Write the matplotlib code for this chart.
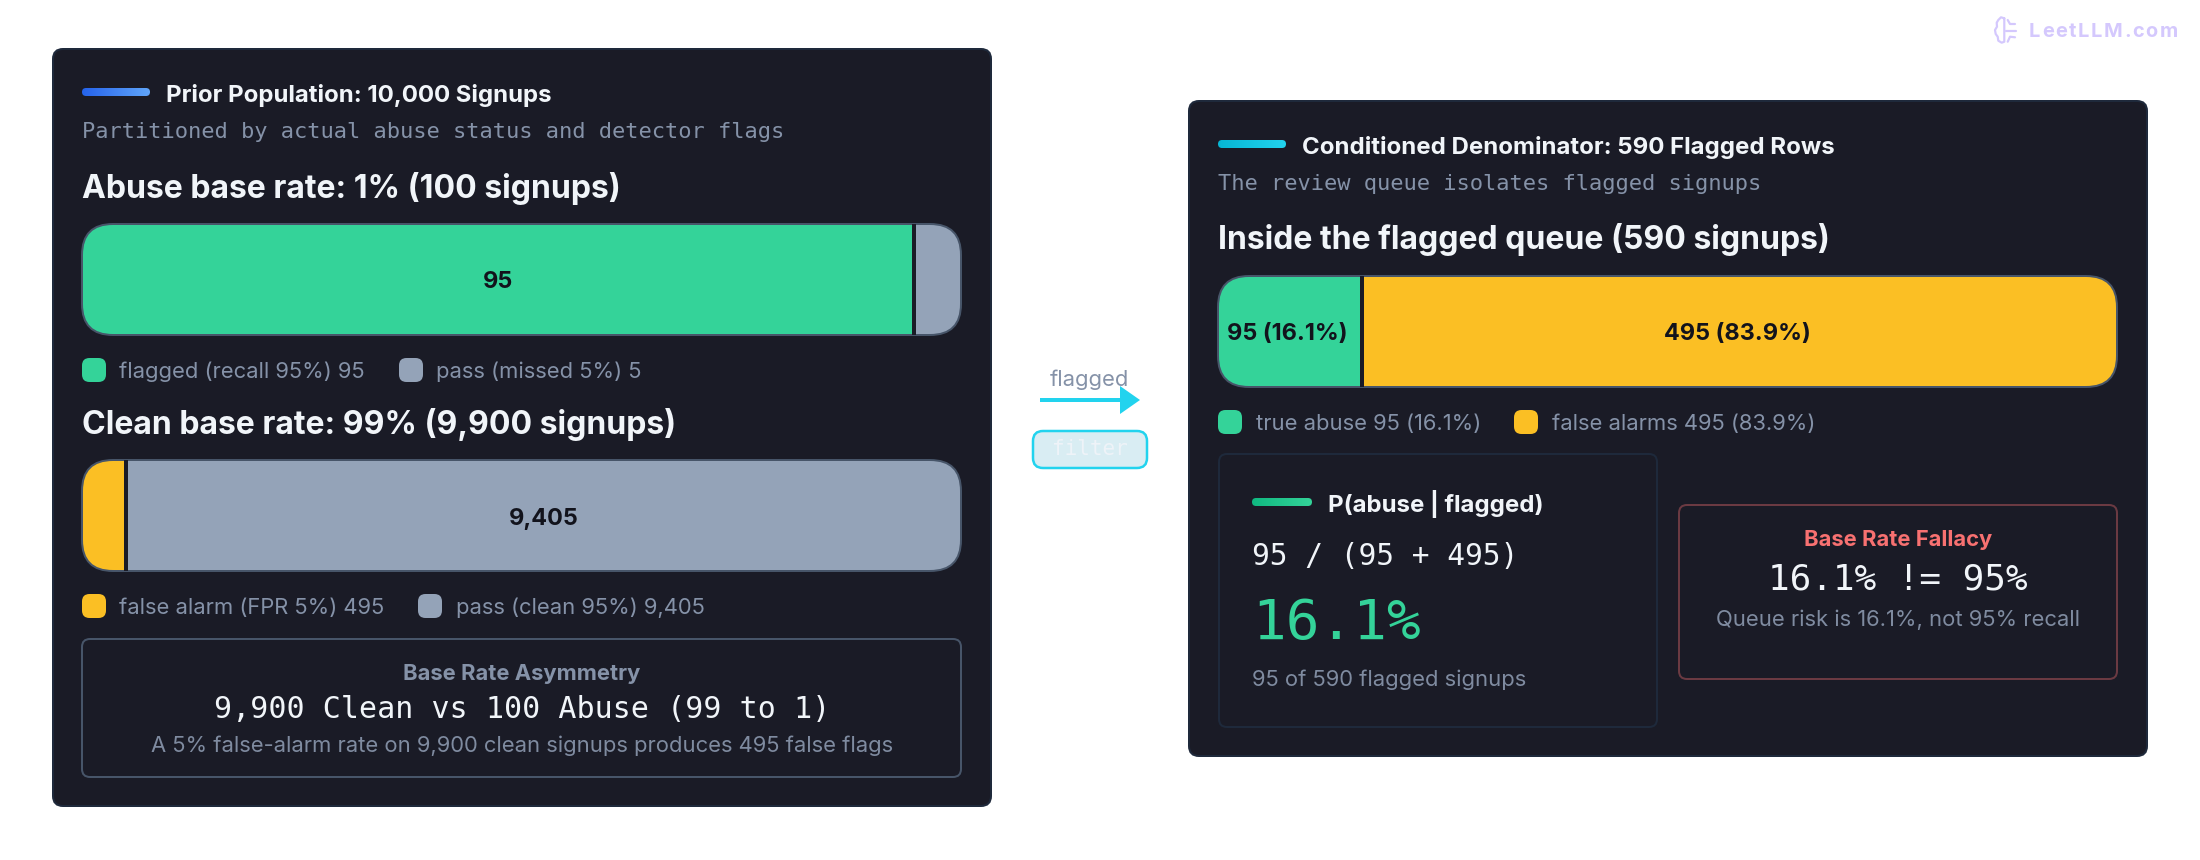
import numpy as np
from matplotlib import pyplot as plt
from matplotlib.colors import to_rgb
from matplotlib.patches import FancyBboxPatch, Polygon

# values
abuse_counts = [95, 5]
abuse_labels = ['95', '']
clean_counts = [495, 9405]
clean_labels = ['', '9,405']
queue_counts = [95, 495]
queue_labels = ['95 (16.1%)', '495 (83.9%)']

W, H = 2200, 860
CARD = '#1a1b26'
GREEN = '#34d399'
GRAY = '#94a3b8'
YELLOW = '#fbbf24'
EDGE = '#475569'
WHITE = '#f1f5f9'
MUTED = '#8592a8'
DIM = '#7f8ba0'
MARK = '#d4c8fd'
SANS = 'Inter'
MONO = 'DejaVu Sans Mono'

fig = plt.figure(figsize=(22, 8.6), dpi=100, facecolor='white')
ax = fig.add_axes([0, 0, 1, 1])
ax.set_xlim(0, W)
ax.set_ylim(H, 0)
ax.axis('off')


def px(v):
    # pixel size to points at 100 dpi
    return v * 0.72


def round_box(x, y, w, h, r, **kw):
    return FancyBboxPatch((x, y), w, h, boxstyle=f'round,pad=0,rounding_size={r}',
                          transform=ax.transData, **kw)


def box(x, y, w, h, r, fc, ec, lw=2, z=1):
    ax.add_patch(round_box(x, y, w, h, r, fc=fc, ec=ec, lw=px(lw), zorder=z))


def txt(x, y, s, size, color, weight='normal', family=SANS, ha='left'):
    return ax.text(x, y, s, fontsize=px(size), color=color, fontweight=weight, family=family,
                   ha=ha, va='baseline', zorder=5)


def spaced_txt(x, y, s, size, color, weight, spacing):
    # matplotlib has no letter-spacing, so place the characters one at a time
    rend = fig.canvas.get_renderer()
    for i, ch in enumerate(s):
        probe = txt(0, 0, s[:i] + '|', size, color, weight)
        bar = txt(0, 0, '|', size, color, weight)
        adv = probe.get_window_extent(rend).width - bar.get_window_extent(rend).width
        probe.remove()
        bar.remove()
        txt(x + adv + spacing * i, y, ch, size, color, weight)


def accent(x, y, w, h, c0, c1):
    c = np.array([to_rgb(c0), to_rgb(c1)])
    ramp = np.linspace(0, 1, 64)[:, None]
    img = (c[0] * (1 - ramp) + c[1] * ramp)[None, :, :]
    im = ax.imshow(img, extent=(x, x + w, y + h, y), aspect='auto', zorder=3)
    im.set_clip_path(round_box(x, y, w, h, h / 2))
    ax.set_xlim(0, W)
    ax.set_ylim(H, 0)


def stacked_bar(x, y, w, h, values, colors, labels, nudge=0, label_dx=0):
    axb = fig.add_axes([x / W, 1 - (y + h) / H, w / W, h / H], zorder=2)
    axb.axis('off')
    clip = round_box(x, y, w, h, 31)
    total = sum(values)
    # the divider sits a touch left of the true boundary in the source
    cut = values[0] - nudge * total / w
    for left, v, c, lab in zip([0, cut], [cut, total - cut], colors, labels):
        bars = axb.barh(0, v, left=left, height=1, color=c)
        bars[0].set_clip_path(clip)
        if lab:
            for ann in axb.bar_label(bars, [lab], label_type='center', fontsize=px(23.5),
                                     color='#12131c', fontweight='bold', family=SANS):
                ann.xyann = (px(label_dx), px(-3))
    axb.axvline(cut, color=CARD, lw=px(4))
    axb.set_xlim(0, total)
    axb.set_ylim(-0.5, 0.5)
    axb.add_patch(round_box(x, y, w, h, 31, fc='none', ec=EDGE, lw=px(2), clip_on=False))


def legend_item(x, y, color, s, text_x):
    box(x, y, 24, 24, 7.5, color, 'none', lw=0, z=3)
    txt(text_x, y + 20, s, 22, MUTED)


# left card
box(53, 49, 938, 757, 10, CARD, '#1e293b')
accent(82, 88, 68, 8, '#2563eb', '#60a5fa')
txt(166, 101.7, 'Prior Population: 10,000 Signups', 24, WHITE, 'bold')
txt(82, 138, 'Partitioned by actual abuse status and detector flags', 22, MUTED, family=MONO)
txt(82, 197.7, 'Abuse base rate: 1% (100 signups)', 32, WHITE, 'bold')
stacked_bar(82, 224, 879, 111, abuse_counts, [GREEN, GRAY], abuse_labels, nudge=3)
legend_item(82, 358, GREEN, 'flagged (recall 95%) 95', 119)
legend_item(399, 358, GRAY, 'pass (missed 5%) 5', 436)
txt(82, 433.7, 'Clean base rate: 99% (9,900 signups)', 32, WHITE, 'bold')
stacked_bar(82, 460, 879, 111, clean_counts, [YELLOW, GRAY], clean_labels)
legend_item(82, 594, YELLOW, 'false alarm (FPR 5%) 495', 119)
legend_item(418, 594, GRAY, 'pass (clean 95%) 9,405', 456)
box(82, 639, 879, 138, 8, 'none', EDGE, z=2)
txt(522, 680, 'Base Rate Asymmetry', 22, MUTED, 'bold', ha='center')
txt(522, 718, '9,900 Clean vs 100 Abuse (99 to 1)', 30, WHITE, family=MONO, ha='center')
txt(522, 752, 'A 5% false-alarm rate on 9,900 clean signups produces 495 false flags', 22, DIM, ha='center')

# arrow between the cards
ax.plot([1040, 1122], [400, 400], color='#22d3ee', lw=px(4), solid_capstyle='butt', zorder=3)
ax.add_patch(Polygon([(1120, 386), (1140, 400), (1120, 414)], fc='#22d3ee', ec='none', zorder=3))
txt(1089, 385.7, 'flagged', 22, MUTED, ha='center')
box(1033, 431, 114, 37, 10, '#d9edf3', '#22d3ee', lw=2.5, z=2)
txt(1090, 455, 'filter', 21, '#eef3f8', family=MONO, ha='center')

# right card
box(1189, 101, 958, 655, 10, CARD, '#1e293b')
accent(1218, 140, 68, 8, '#06b6d4', '#22d3ee')
txt(1302, 153.7, 'Conditioned Denominator: 590 Flagged Rows', 24, WHITE, 'bold')
txt(1218, 190, 'The review queue isolates flagged signups', 22, MUTED, family=MONO)
txt(1218, 249.3, 'Inside the flagged queue (590 signups)', 32, WHITE, 'bold')
stacked_bar(1218, 276, 899, 111, queue_counts, [GREEN, YELLOW], queue_labels, nudge=0.7, label_dx=-2.5)
legend_item(1218, 410, GREEN, 'true abuse 95 (16.1%)', 1256)
legend_item(1514, 410, YELLOW, 'false alarms 495 (83.9%)', 1552)

box(1219, 454, 438, 273, 8, 'none', '#1e293b', z=2)
accent(1252, 498, 60, 8, '#10b981', '#34d399')
txt(1328, 511.7, 'P(abuse | flagged)', 24, WHITE, 'bold')
txt(1252, 565, '95 / (95 + 495)', 29.5, WHITE, family=MONO)
txt(1252, 639, '16.1%', 56, GREEN, family=MONO)
txt(1252, 685.7, '95 of 590 flagged signups', 22, DIM)

box(1679, 505, 438, 174, 8, 'none', '#6b3a42', z=2)
txt(1898, 545.7, 'Base Rate Fallacy', 22, '#f87171', 'bold', ha='center')
txt(1898, 589.3, '16.1% != 95%', 36, WHITE, family=MONO, ha='center')
txt(1898, 625.7, 'Queue risk is 16.1%, not 95% recall', 22, DIM, ha='center')

# watermark
spaced_txt(2029, 37.3, 'LeetLLM.com', 20, MARK, 'bold', 1.6)
icon_strokes = [
    [(2004.3, 18.3), (2001, 17.3), (1998.3, 20), (1996.7, 22.7), (1997, 26.7), (1995, 30),
     (1995.7, 34), (1997.7, 36.7), (1998.3, 40.7), (2001.7, 42.7), (2004.3, 41.7), (2004.3, 18.3)],
    [(2007.7, 20), (2010, 24), (2015, 24)],
    [(2006, 30.7), (2015.7, 30.7)],
    [(2007.7, 41.7), (2010, 36.7), (2015, 37.3)],
]
for stroke in icon_strokes:
    xs, ys = zip(*stroke)
    ax.plot(xs, ys, color=MARK, lw=px(2.2), solid_joinstyle='round', solid_capstyle='round', zorder=3)

fig.savefig('out.png', dpi=100)
